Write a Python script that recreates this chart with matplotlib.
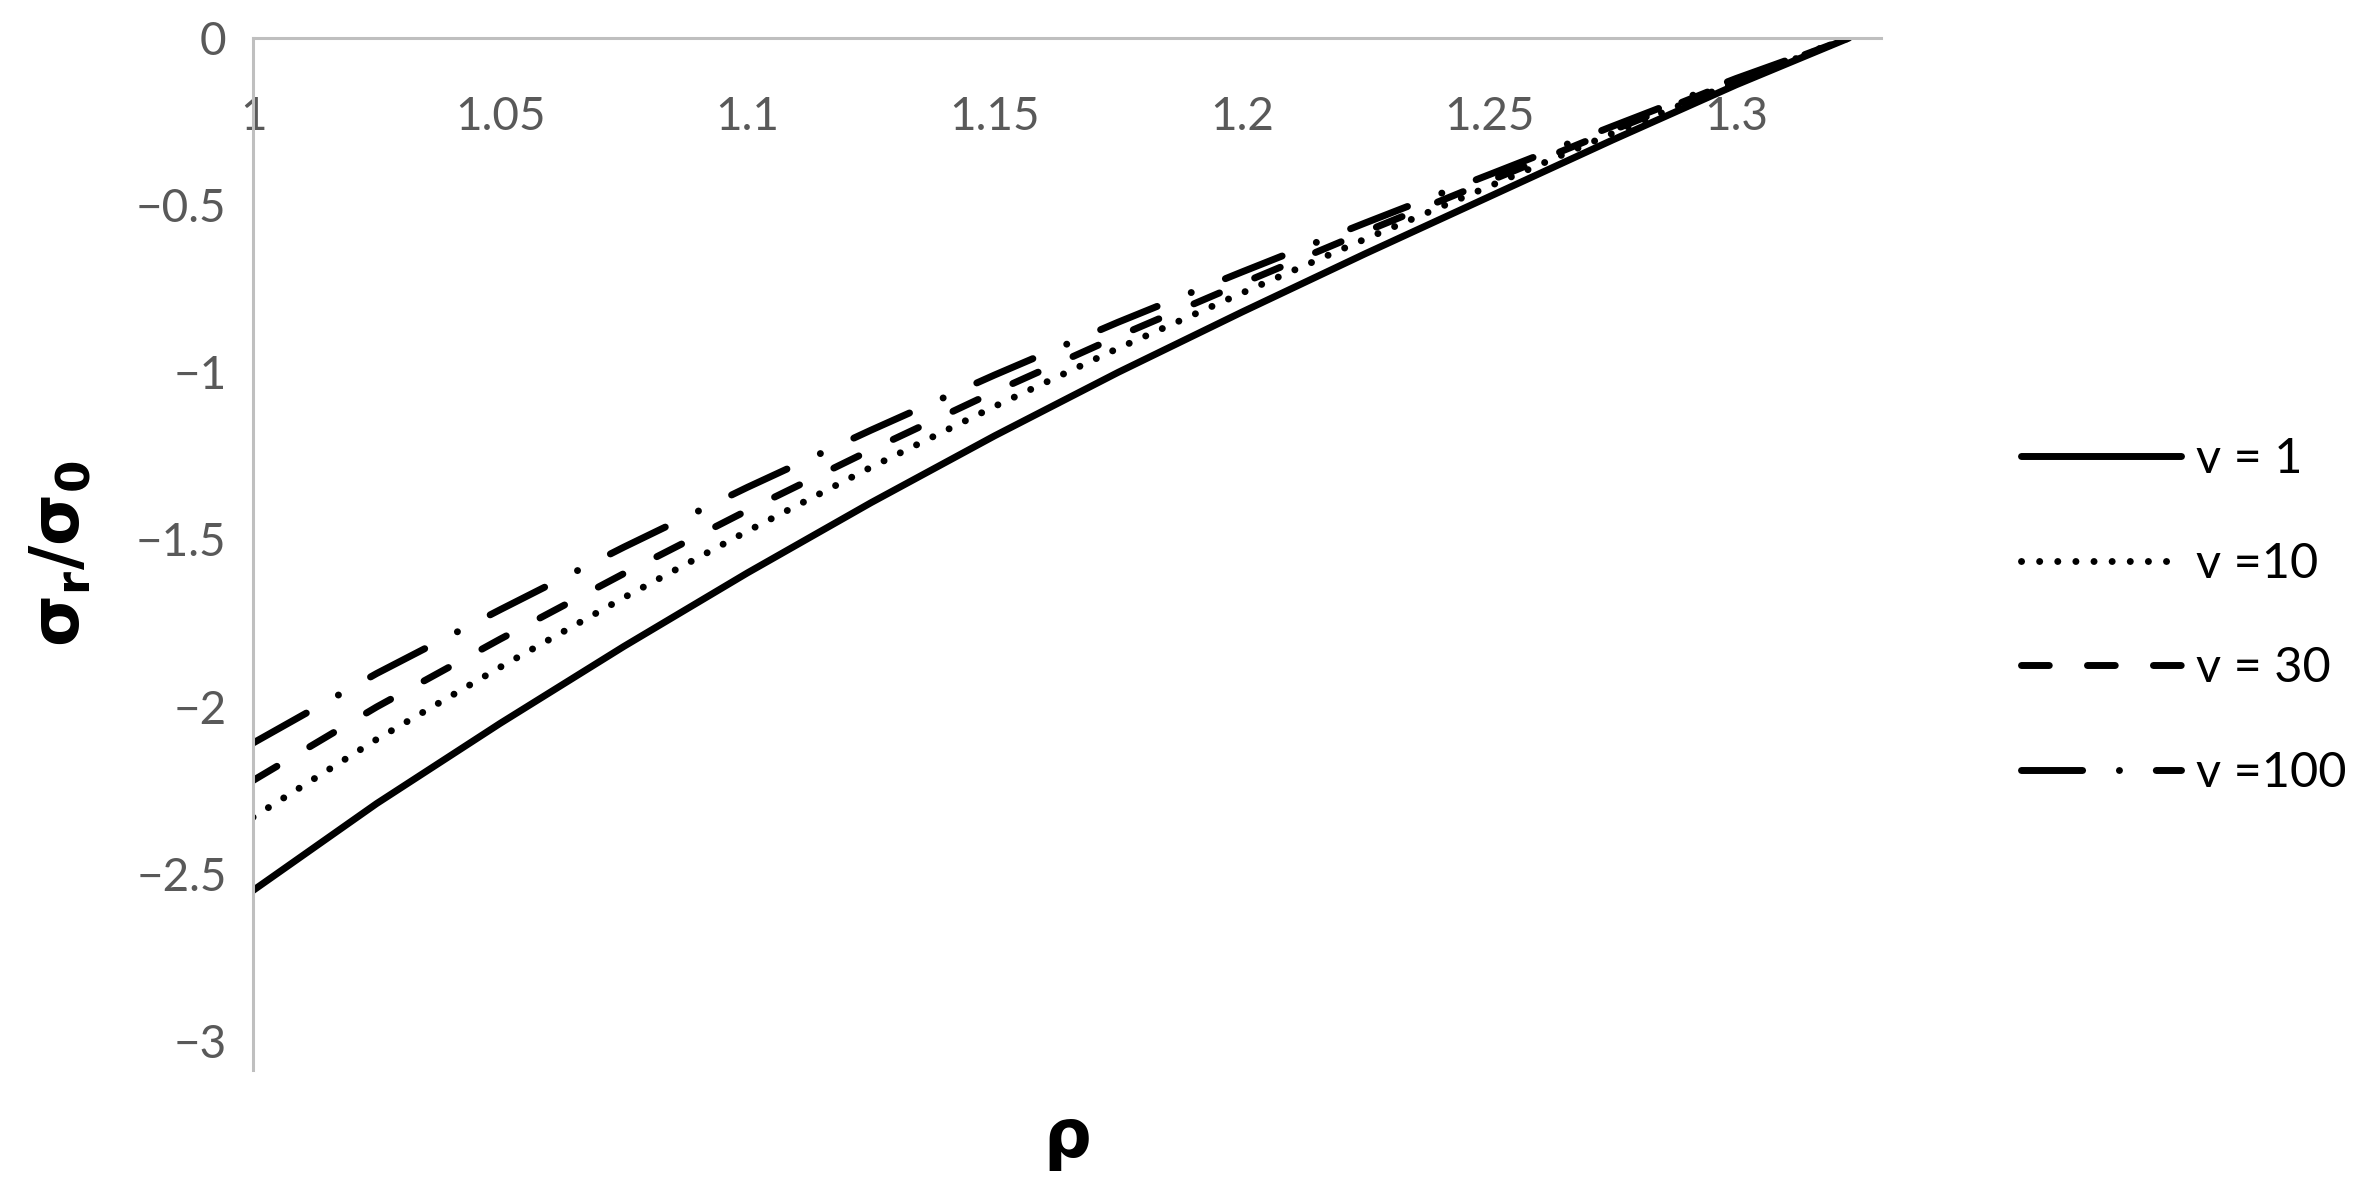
import matplotlib
matplotlib.use("Agg")
import matplotlib.pyplot as plt

# Radial stress vs radius
rho = [1.0, 1.025, 1.05, 1.075, 1.1, 1.125, 1.15, 1.175, 1.2, 1.225, 1.25, 1.275, 1.3, 1.3228]

v1 = [-2.55, -2.29, -2.05, -1.82, -1.60, -1.39, -1.19, -1.00, -0.82, -0.645, -0.475, -0.305, -0.14, 0.0]
v10 = [-2.331, -2.098, -1.882, -1.674, -1.475, -1.284, -1.102, -0.928, -0.763, -0.601, -0.444, -0.285, -0.131, 0.0]
v30 = [-2.221, -2.001, -1.798, -1.602, -1.413, -1.232, -1.058, -0.892, -0.734, -0.579, -0.428, -0.276, -0.127, 0.0]
v100 = [-2.109, -1.901, -1.710, -1.523, -1.344, -1.173, -1.008, -0.850, -0.700, -0.553, -0.409, -0.264, -0.121, 0.0]

labels = ["v = 1", "v =10", "v = 30", "v =100"]
x_ticks = [1, 1.05, 1.1, 1.15, 1.2, 1.25, 1.3]
x_tick_labels = ["1", "1.05", "1.1", "1.15", "1.2", "1.25", "1.3"]
y_ticks = [0, -0.5, -1, -1.5, -2, -2.5, -3]
y_tick_labels = ["0", "\u22120.5", "\u22121", "\u22121.5", "\u22122", "\u22122.5", "\u22123"]

plt.rcParams['font.family'] = ['Lato', 'DejaVu Sans']
plt.rcParams['mathtext.fontset'] = 'dejavusans'

fig = plt.figure(figsize=(23.76, 11.95), dpi=100)
ax = fig.add_axes([0.1065, 0.1046, 0.6852, 0.8636])

lw = 5
ax.plot(rho, v1, color='black', lw=lw, solid_capstyle='round', label=labels[0])
ax.plot(rho, v10, color='black', lw=lw, dashes=(0.01, 2.6), dash_capstyle='round', label=labels[1])
ax.plot(rho, v30, color='black', lw=lw, dashes=(4.0, 5.5), dash_capstyle='round', label=labels[2])
ax.plot(rho, v100, color='black', lw=lw, dashes=(8.8, 5.3, 0.01, 5.3), dash_capstyle='round', label=labels[3])

ax.set_xlim(1, 1.3293)
ax.set_ylim(-3.087, 0)

grey = '#bfbfbf'
for s in ['right', 'top']:
    ax.spines[s].set_visible(False)
ax.spines['bottom'].set_position(('data', 0))
ax.spines['bottom'].set_color(grey)
ax.spines['left'].set_color(grey)
ax.spines['bottom'].set_linewidth(2.2)
ax.spines['left'].set_linewidth(2.2)

ax.set_xticks(x_ticks)
ax.set_xticklabels(x_tick_labels)
ax.set_yticks(y_ticks)
ax.set_yticklabels(y_tick_labels)
ax.tick_params(axis='x', length=0, pad=42, labelsize=33, labelcolor='#595959')
ax.tick_params(axis='y', length=0, pad=19, labelsize=33, labelcolor='#595959')

# axis titles
fig.text(1067 / 2376, 1 - 1138 / 1195, "\u03c1", fontsize=48, fontweight='bold',
         ha='center', va='center', family=['DejaVu Sans'])
fig.text(60 / 2376, 1 - 554 / 1195, r"$\mathbf{\sigma_r/\sigma_0}$", fontsize=48,
         rotation=90, ha='center', va='center')

fig.legend(loc='center left', bbox_to_anchor=(0.8506, 1 - 616 / 1195), frameon=False,
           fontsize=35, handlelength=3.3, handletextpad=0.3, labelspacing=1.25,
           borderpad=0, borderaxespad=0)

fig.savefig("out.png", dpi=100)
